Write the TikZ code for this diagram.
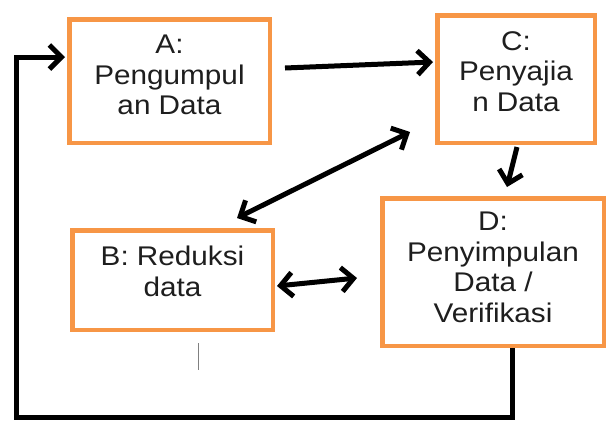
\documentclass[tikz,border=0pt]{standalone}
\usepackage{fontspec}
\newfontfamily\boxfont{Liberation Sans}[FakeStretch=1.1]
\usetikzlibrary{arrows.meta, positioning}
\definecolor{boxorange}{HTML}{F79646}
\definecolor{inkgray}{HTML}{1E1E1E}

\begin{document}
\begin{tikzpicture}[
    x=1pt, y=-1pt,
    box/.style={rectangle, draw=boxorange, line width=4.5pt, fill=white, inner sep=0pt},
    txt/.style={anchor=north, yshift=-18pt, align=center, inner sep=0pt, text=inkgray, font=\boxfont\fontsize{27}{30.5}\selectfont},
    arrow/.style={-{Straight Barb[length=12pt, width=24pt]}, line width=5pt},
    dblarrow/.style={{Straight Barb[length=12pt, width=24pt]}-{Straight Barb[length=12pt, width=24pt]}, line width=5pt},
    tick/.style={draw=gray, line width=1pt}
]
\useasboundingbox (0,0) rectangle (607,421);

% KOTAK (tahap analisis)
\node[box, minimum width=200.5pt, minimum height=123.5pt, label={[txt]north:{A:\\Pengumpul\\an Data}}] (pengumpulan) at (169.5,81) {};
\node[box, minimum width=157.5pt, minimum height=127.5pt, label={[txt]north:{C:\\Penyajia\\n Data}}] (penyajian) at (516,79) {};
\node[box, minimum width=200.5pt, minimum height=99.5pt, label={[txt]north:{B: Reduksi\\data}}] (reduksi) at (172.5,280) {};
\node[box, minimum width=221.5pt, minimum height=147.5pt, label={[txt, yshift=2pt]north:{D:\\Penyimpulan\\Data /\\Verifikasi}}] (penyimpulan) at (493,272) {};

\coordinate (sudut) at (16,417);

% PANAH
\draw[arrow] ([shift={(13,-13)}]pengumpulan.east) -- ([shift={(-2,-17)}]penyajian.west);
\draw[arrow] ([shift={(1,2)}]penyajian.south) -- ([shift={(14,-9)}]penyimpulan.north);
\draw[dblarrow] ([shift={(-38,-10)}]reduksi.north east) -- ([shift={(-25,-13)}]penyajian.south west);
\draw[dblarrow] ([shift={(2,6)}]reduksi.east) -- ([shift={(-23,6)}]penyimpulan.west);

% Umpan balik D -> A
\draw[arrow] ([xshift=19pt]penyimpulan.south) |- (sudut) |- ([shift={(-2,-24)}]pengumpulan.west);

% garis kecil
\draw[tick] ([shift={(25.5,11)}]reduksi.south) -- ++(0,27);

\end{tikzpicture}
\end{document}
